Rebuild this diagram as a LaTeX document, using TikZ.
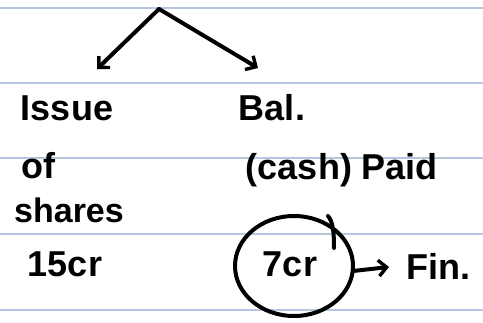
\documentclass[tikz,border=0pt]{standalone}
\usepackage{fontspec}
\setmainfont{Liberation Sans}
\usetikzlibrary{arrows.meta,shapes.geometric}
\definecolor{rule}{HTML}{B7C6DE}
\tikzset{
  ink/.style={line width=4pt, line cap=round, line join=round, draw=black},
  hand/.style={font=\bfseries\fontsize{36}{38}\selectfont, inner sep=0pt, anchor=center},
  tip/.style={-{Straight Barb[length=8pt,width=16pt,line width=3.4pt]}}
}
\begin{document}
\begin{tikzpicture}[x=1pt,y=-1pt]
  \useasboundingbox (0,0) rectangle (483,323);
  \fill[white] (0,0) rectangle (483,323);
  % ruled paper
  \foreach \yy in {8,83,158,234,310}
    \draw[rule, line width=1.3pt] (0,\yy) -- (483,\yy);

  % branching arrows
  \coordinate (top) at (159,9);
  \coordinate (leftend) at (97,69);
  \coordinate (rightend) at (258,68);
  \draw[ink, tip] (top) -- (leftend);
  \draw[ink, tip] (top) -- (rightend);

  % left column
  \node[hand] (issue) at (67,108) {Issue};
  \node[hand] (of) at (38,166) {of};
  \node[hand, font=\bfseries\fontsize{34}{36}\selectfont] (shares) at (69,210) {shares};
  \node[hand] (fifteen) at (65,264) {15cr};

  % right column
  \node[hand] (bal) at (272,108) {Bal.};
  \node[hand] (cash) at (342,170) {(cash) Paid};
  \node[hand] (seven) at (290,264) {7cr};
  \node[ink, draw, ellipse, minimum width=118pt, minimum height=100pt] (ring) at (294,266) {};
  \draw[ink] (334,248) .. controls (334,232) and (333,222) .. (328,216);
  \node[hand] (fin) at (438,266) {Fin.};
  \coordinate (ringout) at (353,271);
  \coordinate (finin) at (389,267);
  \draw[ink, tip] (ringout) -- (finin);
\end{tikzpicture}
\end{document}
